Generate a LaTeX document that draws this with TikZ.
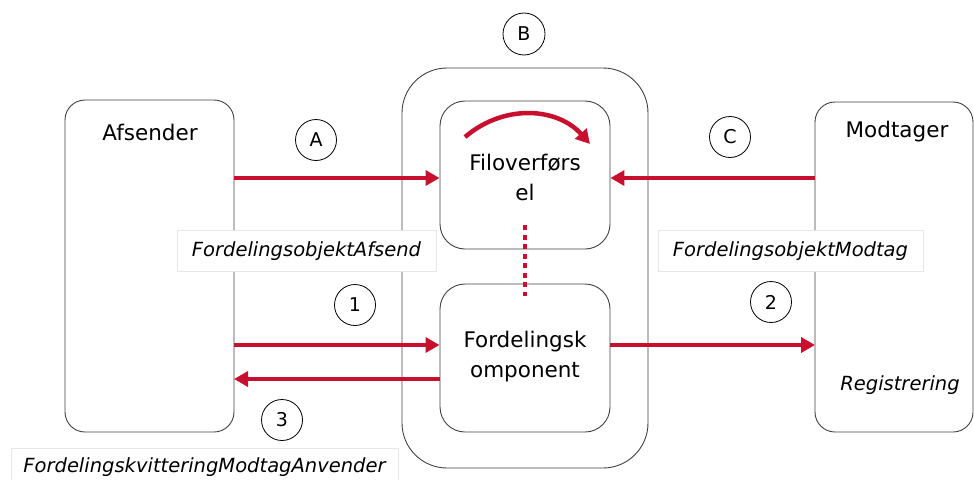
\documentclass[tikz,border=0pt]{standalone}
\usepackage{fontspec}
\setmainfont{DejaVu Sans}
\usetikzlibrary{arrows.meta}
\definecolor{cred}{HTML}{C8102E}
\definecolor{lgray}{HTML}{E6E6E6}
\begin{document}
\begin{tikzpicture}[x=1pt,y=-1pt,
  box/.style={draw=black!75, line width=0.9pt, rounded corners=20pt},
  flow/.style={draw=cred, line width=4.5pt, -{Triangle[length=14pt,width=15pt]}},
  num/.style={draw=black, line width=0.8pt, circle, minimum size=41pt, inner sep=0pt, font=\fontsize{19}{22}\selectfont},
  lab/.style={draw=lgray, fill=white, line width=0.8pt, inner sep=0pt, font=\fontsize{19.5}{23}\selectfont\itshape},
  title/.style={font=\fontsize{21.5}{25}\selectfont}]
\useasboundingbox (0,0) rectangle (974,479);
% outer B box
\draw[box, rounded corners=45pt] (402,68) rectangle (648,468);
% side boxes
\draw[box] (65,100) rectangle (234,432);
\draw[box] (815,102) rectangle (973,432);
\node[title] (afs) at (150,132) {Afsender};
\node[title] (mod) at (897,132) {Modtager};
\node[font=\fontsize{19.5}{23}\selectfont\itshape] (reg) at (900,385) {Registrering};
% inner boxes
\node[box, rounded corners=25pt, minimum width=170pt, minimum height=148pt] (filo) at (525,175) {};
\node[box, rounded corners=25pt, minimum width=170pt, minimum height=148pt] (ford) at (525,358) {};
\node[title, align=center] (filot) at (525,177) {Filoverførs\\[5pt]el};
\node[title, align=center] (fordt) at (525,357) {Fordelingsk\\[5pt]omponent};
% curved arrow
\coordinate (ca1) at (465,137);
\coordinate (ca2) at (590,144);
\draw[cred, line width=4.5pt, -{Triangle[length=14pt,width=15pt]}] (ca1) .. controls (505,103) and (558,108) .. (ca2);
% dotted link
\draw[cred, line width=4.5pt, dash pattern=on 5pt off 4.5pt] (filo.south) ++(0,-24) coordinate (d1) -- (ford.north |- 0,296) coordinate (d2);
% anchor coordinates on side boxes
\coordinate (afsA) at (234,178);
\coordinate (afs1) at (234,345);
\coordinate (afs3) at (234,379);
\coordinate (modC) at (815,178);
\coordinate (mod2) at (815,345);
% arrows
\draw[flow] (afsA) -- (filo.west |- afsA);
\draw[flow] (modC) -- (filo.east |- modC);
\draw[flow] (afs1) -- (ford.west |- afs1);
\draw[flow] (ford.west |- afs3) -- (afs3);
\draw[flow] (ford.east |- mod2) -- (mod2);
% circles
\node[num, minimum size=42pt] (B) at (524,34) {B};
\node[num] (A) at (316,140) {A};
\node[num] (C) at (730,137) {C};
\node[num] (n1) at (355,305) {1};
\node[num] (n2) at (771,302) {2};
\node[num] (n3) at (282,420) {3};
% labels
\node[lab, minimum width=259pt, minimum height=41pt] (la) at (306.5,251) {FordelingsobjektAfsend};
\node[lab, minimum width=265pt, minimum height=41pt] (lm) at (790.5,251) {FordelingsobjektModtag};
\node[lab, minimum width=387pt, minimum height=41pt, anchor=north west] (lk) at (11,448) {};
\node[font=\fontsize{19.5}{23}\selectfont\itshape] (lkt) at (204.5,467) {FordelingskvitteringModtagAnvender};
\end{tikzpicture}
\end{document}
